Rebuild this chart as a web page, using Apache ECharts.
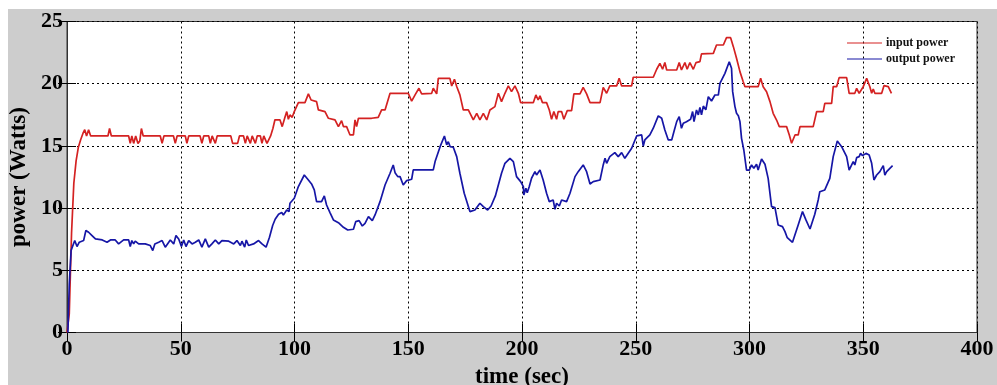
<!DOCTYPE html>
<html>
<head>
<meta charset="utf-8">
<script src="https://cdn.jsdelivr.net/npm/echarts@6/dist/echarts.min.js"></script>
<style>
html,body{margin:0;padding:0;background:#fff;overflow:hidden;}
#bg{position:absolute;left:8px;top:9px;width:989px;height:376px;background:#cdcdcd;}
#chart{position:absolute;left:0;top:0;width:997px;height:385px;}
</style>
</head>
<body>
<div id="bg"></div>
<div id="chart"></div>
<script>
// x tick labels / y tick labels
var xTicks = [0, 50, 100, 150, 200, 250, 300, 350, 400];
var yTicks = [0, 5, 10, 15, 20, 25];

// input power (red)
var inputTime = [0,1,2,3,4,5,6,7,7.8,8.6,9.5,10.4,18,18.7,19.5,27.1,27.8,28.5,29.3,30.2,31.2,32,32.7,33.5,41,41.8,42.6,46.8,47.6,48.4,52,52.7,53.5,58.5,59.3,60.1,62.3,63,63.8,64.5,65.2,66,72,72.8,75,75.8,77.6,78.4,79.2,79.9,80.6,81.4,82.1,82.8,83.6,85,85.7,86.5,87.2,87.9,88.7,89.5,90.5,91.4,93.6,94.6,95.8,96.6,97.3,98,99,99.9,100.9,101.7,104.6,106.1,107.3,109.7,110.5,113.4,114.9,117.8,119.3,120.7,121.5,122.9,124.4,125.9,126.6,127.3,128.1,133.9,136.8,138.3,139.8,142,150,151.5,153,154.7,155.9,160.3,161,162.5,163.2,168.3,169.1,170.3,171.3,172.7,174.2,176.4,178.6,180.1,181.5,183,184.5,185.9,188.1,189.6,191,192.5,194,195.4,196.9,198.4,199.4,205,206.1,207.1,207.9,209,210.8,212,213,214,215.2,215.9,217.4,218.4,219.9,221.8,222.8,225.5,226.9,228.4,229.9,234.3,235.7,237.2,238.6,241.6,242.7,243.8,248.2,248.9,257.7,259.2,260.6,261.8,262.8,263.6,268,269.1,270.1,271.6,272.6,273.8,275.3,276.5,278.2,278.9,284.1,285.5,288.5,289.9,291.7,292.9,294.3,295.8,297.2,298,303.8,304.9,306,307.5,309,310.4,311.9,313.1,316.3,317.5,318.5,320,321.4,322.2,328,329.5,332.4,333.1,336.1,336.8,338.3,339.4,342.7,343.8,346.3,347.1,348.2,350,351.5,352.9,353.7,354.4,355.1,358.1,359.1,361,362.4];
var inputPower = [0,1.5,8,12,13.8,14.9,15.5,16.0,16.3,15.8,16.3,15.8,15.8,16.4,15.8,15.8,15.2,15.8,15.2,15.8,15.2,15.4,16.4,15.8,15.8,15.2,15.8,15.8,15.2,15.8,15.8,15.2,15.8,15.8,15.2,15.8,15.8,15.2,15.8,15.8,15.2,15.8,15.8,15.2,15.2,15.8,15.8,15.2,15.8,15.8,15.2,15.8,15.8,15.2,15.8,15.8,15.2,15.8,15.8,15.2,15.2,15.8,16.4,17.1,17.1,16.55,17.3,17.76,17.14,17.49,17.3,17.76,18.16,18.48,18.48,19.18,18.69,18.56,17.89,17.76,17.22,17.09,16.55,17.03,16.55,16.55,15.88,15.88,17.09,16.55,17.22,17.22,17.3,17.89,17.89,19.23,19.23,18.6,19.1,19.63,19.18,19.23,19.63,19.18,20.43,20.43,19.82,20.35,19.77,19.1,17.89,17.89,17.09,17.62,17.09,17.62,17.09,17.89,18.16,19.23,18.56,19.23,19.82,19.36,19.82,19.23,18.48,18.48,19.1,18.69,19.02,18.48,18.48,17.89,17.14,17.76,17.14,17.76,17.76,17.14,17.84,17.84,19.18,19.18,19.71,19.18,18.48,18.48,19.71,19.23,19.82,19.82,20.43,19.82,19.82,20.52,20.52,21.16,21.64,21.16,21.7,21.1,21.1,21.7,21.1,21.7,21.16,21.7,21.16,21.7,21.77,22.4,22.44,23.11,23.11,23.7,23.7,22.98,22.04,20.97,20.17,19.76,19.76,20.43,19.76,19.36,18.56,17.62,17.08,16.55,16.55,15.88,15.21,15.88,15.88,16.55,16.55,17.75,17.75,18.42,18.42,19.76,19.76,20.49,20.49,19.23,19.23,19.63,19.23,19.76,20.43,19.76,19.23,19.58,19.23,19.23,19.84,19.76,19.23];

// output power (blue)
var outputTime = [0.4,1,1.8,2.5,3.4,4.4,5.4,6.2,7.3,8.3,9.5,11,12.5,15.5,17.6,19.1,21.2,22.7,24.9,27.1,27.8,28.5,29.3,30,31.5,34.4,36.6,37.7,38.6,40.3,41.8,43.2,45.4,46.9,47.9,49.1,50.3,51.3,52.3,53.5,55,56.4,57.9,59.3,60.8,62.3,63.7,65.2,66.7,68.1,71.1,73.3,74.7,76.2,76.9,78.1,78.8,79.8,82,84.2,85.7,87.5,89,90.4,91.5,93,94.4,95.1,96.6,97.6,98,99.9,101.7,104.3,106.1,107.5,108.7,109.7,111.9,113.1,114.1,115.6,117.1,117.8,119.3,121.5,123.4,125.9,126.9,128.4,129.8,131,132.5,134.2,135.4,137.6,139.8,142,143.4,144.2,145.4,146.4,147.8,149.3,151.5,152.2,161,161.8,164,165.9,166.9,167.6,168.4,169.8,171.3,172.7,174.6,177.1,179.3,181.5,183,184.9,186.4,188.3,191,192.5,194.7,196.2,197.6,199.4,200.6,200.8,201.7,202.3,203.2,204.2,205.7,206.4,207.9,209.3,210.8,212,213.7,214.5,215.2,216.4,217.4,219.6,221.1,223.3,224.7,225.5,226.9,228.4,229.9,231.3,234.3,235.7,236.5,237.2,238.6,240.8,242.3,243.8,245.2,246.7,248.2,250.4,252.6,253.3,254,256.2,257.7,259.9,261.4,262.8,264.3,265.8,266.8,268,269.1,270.1,270.9,272.3,274.1,275,275.6,276.7,277.5,278.2,278.9,279.7,280.8,281.9,283.3,284.8,286.3,287,287.7,289.2,291.1,292.1,292.6,293.6,294.3,295.1,295.8,296.5,297.5,298.7,299.9,300.9,301.9,303.1,303.8,305.3,306.8,307.5,308.2,309.7,311.2,312.6,314.5,315.6,316.6,318.9,321.4,323.3,324.8,326.6,328.7,330.2,330.9,333.1,335.3,336.8,338.6,340.5,342.7,343.8,344.9,345.6,346.3,347.1,348.2,348.8,349.7,351.2,352.6,353.7,354.7,355.9,357.3,358.8,359.5,360.3,361.7,362.9];
var outputPower = [0,3.9,6.6,6.7,7.39,6.91,7.26,7.12,7.39,8.2,8.06,7.79,7.52,7.44,7.26,7.44,7.44,7.12,7.44,7.44,6.91,7.39,7.12,7.34,7.12,7.12,6.99,6.59,7.12,7.26,7.39,6.86,7.44,7.12,7.79,7.52,6.91,7.44,6.91,7.39,7.12,7.26,7.44,6.86,7.52,6.86,7.12,7.44,7.12,7.39,7.34,7.12,7.39,6.99,7.34,6.86,7.44,6.99,7.12,7.39,7.12,6.86,7.66,8.6,9.1,9.5,9.64,9.45,9.85,9.72,10.39,10.79,11.73,12.66,12.26,11.94,11.46,10.52,10.52,10.98,10.25,9.64,9.05,9.18,8.83,8.46,8.24,8.3,8.91,8.99,8.56,8.78,9.32,8.99,9.45,10.52,11.86,12.8,13.47,12.85,12.53,12.53,11.86,12.21,12.32,13.07,13.07,13.74,14.94,15.8,15.08,15.34,14.94,14.89,14.14,12.8,11.19,9.72,9.85,10.39,10.12,9.85,10.17,10.98,12.8,13.6,14.0,13.74,12.53,12.13,11.73,11.06,11.59,11.24,11.73,12.4,12.93,12.66,13.07,12.26,11.19,10.52,10.65,9.9,10.39,10.17,10.65,10.52,11.19,12.53,12.93,12.8,13.47,12.93,11.94,12.13,12.26,13.47,14.0,13.6,14.14,14.46,14.14,14.46,14.0,14.41,14.81,15.8,15.88,14.99,15.48,15.88,16.42,17.41,17.22,16.28,15.48,15.48,16.15,16.95,17.35,16.42,16.82,16.95,17.14,17.76,16.95,17.89,17.49,18.1,17.5,18.2,17.9,18.96,18.61,19.09,19.09,20.03,20.11,20.83,21.77,21.24,19.36,18.16,17.62,17.43,16.95,15.61,14.67,13.06,13.06,13.47,13.2,13.52,13.06,13.95,13.52,13.47,12.39,10.12,10.04,8.64,8.51,8.11,7.62,7.25,8.64,9.72,9.05,8.32,9.5,10.65,11.32,11.46,12.39,14.14,15.39,14.94,14.14,13.06,13.47,13.73,13.47,14.06,14.14,14.4,14.22,14.4,14.27,13.6,12.26,12.66,12.93,13.41,12.66,12.93,13.2,13.41];

function pairs(t, v) { return t.map(function (x, i) { return [x, v[i]]; }); }

var FONT = 'Liberation Serif';
var chart = echarts.init(document.getElementById('chart'), null, {renderer: 'canvas'});
var grid = {left: 67, top: 21.5, right: 20, bottom: 52.5, show: true, backgroundColor: '#ffffff', borderColor: '#333', borderWidth: 1, containLabel: false, outerBoundsMode: 'none'};
var dotted = {show: true, lineStyle: {color: '#000', type: [2, 3], width: 1}};
chart.setOption({
  animation: false,
  backgroundColor: 'transparent',
  grid: grid,
  legend: {
    orient: 'vertical', left: 847, top: 37, padding: 0, itemWidth: 35, itemHeight: 1, itemGap: 4,
    icon: 'rect',
    textStyle: {fontFamily: FONT, fontWeight: 'bold', fontSize: 12, color: '#111', lineHeight: 12, padding: [0, 0, 0, -1]},
    data: ['input power', 'output power']
  },
  xAxis: [{
    type: 'value', min: xTicks[0], max: xTicks[xTicks.length - 1], interval: xTicks[1] - xTicks[0],
    axisLine: {show: true, onZero: false, lineStyle: {color: '#000', width: 1}},
    axisTick: {show: true, inside: true, length: 9, lineStyle: {color: '#000'}},
    splitLine: dotted,
    axisLabel: {fontFamily: FONT, fontWeight: 'bold', fontSize: 22, color: '#000', margin: 6},
    name: 'time (sec)', nameLocation: 'middle', nameGap: 30,
    nameTextStyle: {fontFamily: FONT, fontWeight: 'bold', fontSize: 23, color: '#000'}
  }, {
    type: 'value', position: 'top', min: xTicks[0], max: xTicks[xTicks.length - 1], interval: xTicks[1] - xTicks[0],
    axisLine: {show: true, lineStyle: {color: '#333', width: 1}},
    axisTick: {show: true, inside: true, length: 9, lineStyle: {color: '#000'}},
    axisLabel: {show: false}, splitLine: {show: false}
  }],
  yAxis: [{
    type: 'value', min: yTicks[0], max: yTicks[yTicks.length - 1], interval: yTicks[1] - yTicks[0],
    axisLine: {show: true, onZero: false, lineStyle: {color: '#000', width: 1}},
    axisTick: {show: true, inside: true, length: 9, lineStyle: {color: '#000'}},
    splitLine: dotted,
    axisLabel: {fontFamily: FONT, fontWeight: 'bold', fontSize: 22, color: '#000', margin: 4},
    name: 'power (Watts)', nameLocation: 'middle', nameGap: 30,
    nameTextStyle: {fontFamily: FONT, fontWeight: 'bold', fontSize: 23, color: '#000'}
  }, {
    type: 'value', position: 'right', min: yTicks[0], max: yTicks[yTicks.length - 1], interval: yTicks[1] - yTicks[0],
    axisLine: {show: true, lineStyle: {color: '#333', width: 1}},
    axisTick: {show: true, inside: true, length: 9, lineStyle: {color: '#000'}},
    axisLabel: {show: false}, splitLine: {show: false}
  }],
  series: [{
    name: 'input power', type: 'line', showSymbol: false, symbol: 'none',
    color: '#d42222', lineStyle: {width: 1.7, color: '#d42222'},
    data: pairs(inputTime, inputPower)
  }, {
    name: 'output power', type: 'line', showSymbol: false, symbol: 'none',
    color: '#1616a6', lineStyle: {width: 1.7, color: '#1616a6'},
    data: pairs(outputTime, outputPower)
  }]
});
</script>
</body>
</html>
